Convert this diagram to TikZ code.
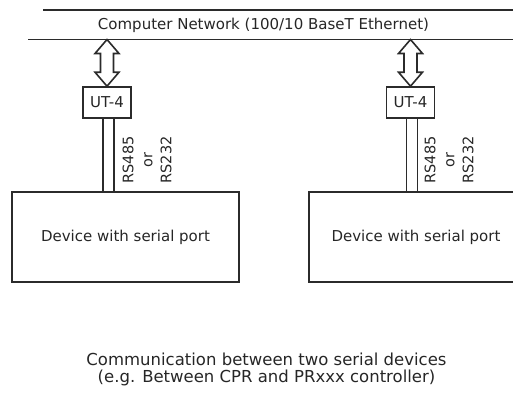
\documentclass[tikz,border=0pt]{standalone}
\usepackage{fontspec}
\setmainfont{DejaVu Sans}
\usetikzlibrary{calc}
\definecolor{lineGray}{HTML}{2B2B2B}
\definecolor{textGray}{HTML}{262626}
\tikzset{
  font=\fontsize{15}{19}\selectfont,
  wire/.style={draw=lineGray,line width=1.6pt},
  conv/.style={rectangle,draw=lineGray,line width=1.6pt,minimum width=48pt,
    minimum height=31pt,inner sep=2pt,text=textGray},
  device/.style={rectangle,draw=lineGray,line width=1.6pt,minimum height=90pt,text=textGray},
  portlabel/.style={rotate=90,align=center,text=textGray,font=\fontsize{14.5}{19}\selectfont},
  caption/.style={align=center,text=textGray,font=\fontsize{16.5}{17}\selectfont},
}
% hollow double arrow between two points (top, bottom)
\newcommand{\hollowarrow}[2]{%
  \draw[wire,fill=white,line join=miter] (#1) -- ++(12,14) -- ++(-5.5,0)
    -- ($(#2)+(6.5,-14)$) -- ++(5.5,0) -- (#2) -- ++(-12,-14) -- ++(5.5,0)
    -- ($(#1)+(-6.5,14)$) -- ++(-5.5,0) -- cycle;}

\begin{document}
\begin{tikzpicture}[x=1pt,y=-1pt]
\useasboundingbox (0,0) rectangle (513,392);

% network
\coordinate (netTopL) at (43,10);
\coordinate (netTopR) at (520,10);
\coordinate (netBotL) at (28,39.5);
\coordinate (netBotR) at (520,39.5);
\draw[wire] (netTopL) -- (netTopR);
\draw[wire] (netBotL) -- (netBotR);
\node[text=textGray] (net) at (263.5,25) {Computer Network (100/10 BaseT Ethernet)};

% converters
\node[conv] (ut1) at (107,102.5) {UT-4};
\node[conv] (ut2) at (410.5,102.5) {UT-4};

\coordinate (tap1) at (ut1.north |- netBotL);
\coordinate (tap2) at (ut2.north |- netBotL);
\hollowarrow{tap1}{ut1.north}
\hollowarrow{tap2}{ut2.north}

% devices
\node[device,minimum width=227pt] (dev1) at (125.5,237) {Device with serial port};
\node[device,minimum width=214pt] (dev2) at (416,237) {Device with serial port};

% serial lines
\draw[wire] ([xshift=-4pt]ut1.south) -- ([xshift=-4pt]ut1.south |- dev1.north);
\draw[wire] ([xshift=7pt]ut1.south) -- ([xshift=7pt]ut1.south |- dev1.north);
\draw[wire] ([xshift=-4pt]ut2.south) -- ([xshift=-4pt]ut2.south |- dev2.north);
\draw[wire] ([xshift=7pt]ut2.south) -- ([xshift=7pt]ut2.south |- dev2.north);

\node[portlabel] (port1) at (147,160) {RS485\\or\\RS232};
\node[portlabel] (port2) at (449,160) {RS485\\or\\RS232};

\node[caption] (cap) at (266.5,369) {Communication between two serial devices\\(e.g. Between CPR and PRxxx controller)};

\end{tikzpicture}
\end{document}
